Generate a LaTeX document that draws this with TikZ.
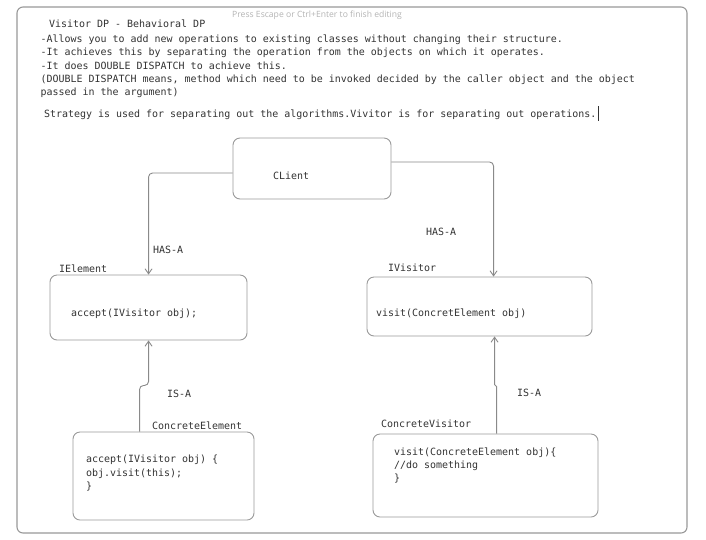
\documentclass[tikz,border=0pt]{standalone}
\usepackage{fontspec}
\setmonofont{DejaVu Sans Mono}
\newfontfamily\hintfont{Open Sans}
\usetikzlibrary{arrows.meta,calc}
\definecolor{boxgray}{HTML}{9A9A9A}
\definecolor{arrgray}{HTML}{8A8A8A}
\definecolor{framegray}{HTML}{999999}
\definecolor{textcol}{HTML}{333333}
\definecolor{hintcol}{HTML}{B4B4B4}
\begin{document}
\begin{tikzpicture}[x=1pt,y=-1pt,
  box/.style={draw=boxgray, line width=0.9pt, rounded corners=7pt, inner sep=0pt},
  txt/.style={anchor=base west, inner sep=0pt, font=\ttfamily\fontsize{9.97}{13}\selectfont, text=textcol},
  arr/.style={draw=arrgray, line width=0.9pt, -{Straight Barb[length=5pt,width=7pt]}, rounded corners=4pt}]
\useasboundingbox[fill=white] (0,0) rectangle (706,539);
% outer frame
\draw[framegray, line width=1.1pt, rounded corners=6pt] (17,7) rectangle (687,533);
% hint
\node[anchor=base west, inner sep=0pt, font=\hintfont\fontsize{8.6}{10}\selectfont, text=hintcol] (hint) at (232,17.5) {Press Escape or Ctrl+Enter to finish editing};
% header text
\node[txt] (h1) at (49,27.5) {Visitor DP - Behavioral DP};
\node[txt] (h2) at (40.5,42.5) {-Allows you to add new operations to existing classes without changing their structure.};
\node[txt] (h3) at (40.5,55.8) {-It achieves this by separating the operation from the objects on which it operates.};
\node[txt] (h4) at (40.5,69.2) {-It does DOUBLE DISPATCH to achieve this.};
\node[txt] (h5) at (40.5,82.5) {(DOUBLE DISPATCH means, method which need to be invoked decided by the caller object and the object};
\node[txt] (h6) at (40.5,95.8) {passed in the argument)};
\node[txt] (h7) at (44,117.5) {Strategy is used for separating out the algorithms.Vivitor is for separating out operations.};
\draw[textcol, line width=0.5pt] (598,106) -- (598,121);
% boxes
\node[box, minimum width=158pt, minimum height=61pt] (client) at (312,168.5) {};
\node[box, minimum width=197pt, minimum height=65pt] (ielem) at (148.5,307.5) {};
\node[box, minimum width=225pt, minimum height=59pt] (ivis) at (479.5,306.5) {};
\node[box, minimum width=181pt, minimum height=88pt] (celem) at (163.5,476) {};
\node[box, minimum width=225pt, minimum height=83pt] (cvis) at (485.5,475.5) {};
% box texts
\node[txt] (tclient) at (273,179.5) {CLient};
\node[txt] (tielem) at (59,272.5) {IElement};
\node[txt] (tielemb) at (71,316.5) {accept(IVisitor obj);};
\node[txt] (tivis) at (388,271.5) {IVisitor};
\node[txt] (tivisb) at (376,316.5) {visit(ConcretElement obj)};
\node[txt] (tcelem) at (152,429.5) {ConcreteElement};
\node[txt] (tcelem1) at (86,462.5) {accept(IVisitor obj) \{};
\node[txt] (tcelem2) at (86,476.5) {obj.visit(this);};
\node[txt] (tcelem3) at (86,489.5) {\}};
\node[txt] (tcvis) at (381,427.5) {ConcreteVisitor};
\node[txt] (tcvis1) at (394,455.5) {visit(ConcreteElement obj)\{};
\node[txt] (tcvis2) at (394,468.5) {//do something};
\node[txt] (tcvis3) at (394,481.5) {\}};
% connector labels
\node[txt] (hasa1) at (153,253.5) {HAS-A};
\node[txt] (hasa2) at (426,235.5) {HAS-A};
\node[txt] (isa1) at (167,397.5) {IS-A};
\node[txt] (isa2) at (517,396.5) {IS-A};
% connectors
\coordinate (ieTop) at ($(ielem.north west)+(99,0)$);
\coordinate (ivTop) at ($(ivis.north west)+(127,0)$);
\coordinate (ieBot) at ($(ielem.south west)+(99,0)$);
\coordinate (ivBot) at ($(ivis.south west)+(128,0)$);
\coordinate (ceTop) at ($(celem.north west)+(67,0)$);
\coordinate (cvTop) at ($(cvis.north west)+(124,0)$);
\coordinate (jog1) at ($(ieBot)+(0,45)$);
\coordinate (jog2) at ($(ivBot)+(0,49)$);
\draw[arr] ($(client.west)+(0,4.5)$) -| (ieTop);
\draw[arr] ($(client.east)+(0,-6.5)$) -| (ivTop);
\draw[arr] (ceTop) |- (jog1) -- (ieBot);
\draw[arr, rounded corners=1pt] (cvTop) |- (jog2) -- (ivBot);
\end{tikzpicture}
\end{document}
